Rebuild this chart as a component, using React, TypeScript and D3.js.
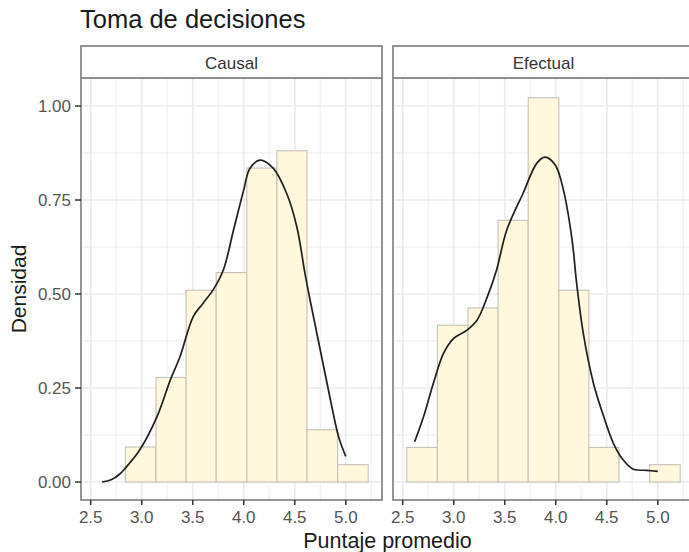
import React, {useEffect, useRef} from 'react';
import * as d3 from 'd3';

// bin breaks shared by both facets (binwidth ~0.3)
const binBreaks = [2.54, 2.84, 3.14, 3.435, 3.73, 4.03, 4.325, 4.62, 4.92, 5.22];

const causalHist = [0, 0.093, 0.278, 0.51, 0.557, 0.835, 0.881, 0.139, 0.046];
const efectualHist = [0.092, 0.417, 0.463, 0.696, 1.022, 0.51, 0.092, 0, 0.046];

const causalDensX = [2.61, 2.70, 2.78, 2.84, 2.98, 3.15, 3.28, 3.375, 3.505,
  3.60, 3.70, 3.80, 3.90, 4.00, 4.06, 4.16, 4.29, 4.42, 4.52, 4.60, 4.65,
  4.75, 4.85, 4.93, 5.00];
const causalDensY = [0.0, 0.006, 0.02, 0.037, 0.085, 0.174, 0.271, 0.333,
  0.44, 0.475, 0.511, 0.564, 0.67, 0.777, 0.834, 0.856, 0.834, 0.768, 0.679,
  0.555, 0.484, 0.351, 0.218, 0.12, 0.068];

const efectualDensX = [2.617, 2.705, 2.80, 2.90, 3.00, 3.13, 3.23, 3.33,
  3.42, 3.52, 3.68, 3.815, 3.895, 3.995, 4.075, 4.16, 4.205, 4.27, 4.37,
  4.47, 4.565, 4.66, 4.76, 4.89, 5.00];
const efectualDensY = [0.107, 0.174, 0.262, 0.342, 0.382, 0.404, 0.431,
  0.493, 0.564, 0.67, 0.768, 0.848, 0.864, 0.843, 0.777, 0.644, 0.528, 0.395,
  0.262, 0.174, 0.103, 0.059, 0.034, 0.031, 0.028];

const facets = ['Causal', 'Efectual'];
const xTicks = [2.5, 3.0, 3.5, 4.0, 4.5, 5.0];
const xMinor = [2.75, 3.25, 3.75, 4.25, 4.75, 5.25];
const yTicks = [0, 0.25, 0.5, 0.75, 1.0];
const yMinor = [0.125, 0.375, 0.625, 0.875];

const FONT = '\'Liberation Sans\', Arial, Helvetica, sans-serif';

export default function App() {
  const ref = useRef<SVGSVGElement>(null);

  useEffect(() => {
    const svg = d3.select(ref.current);
    svg.selectAll('*').remove();

    const panelW = 301;
    const panelTop = 78;
    const panelBottom = 500;
    const stripTop = 46;
    const panelLefts = [81, 393];

    const x = d3.scaleLinear().domain([2.405, 5.355]).range([0, panelW]);
    const y = d3.scaleLinear()
        .domain([-0.0479, 1.0745])
        .range([panelBottom, panelTop]);

    const hists = [causalHist, efectualHist];
    const curves = [
      causalDensX.map((d, i) => [d, causalDensY[i]] as [number, number]),
      efectualDensX.map((d, i) => [d, efectualDensY[i]] as [number, number]),
    ];

    const line = d3.line<[number, number]>()
        .x((d) => x(d[0]))
        .y((d) => y(d[1]))
        .curve(d3.curveCatmullRom);

    facets.forEach((name, k) => {
      const g = svg.append('g')
          .attr('transform', `translate(${panelLefts[k]},0)`);

      // panel background
      g.append('rect')
          .attr('x', 0).attr('y', panelTop)
          .attr('width', panelW).attr('height', panelBottom - panelTop)
          .attr('fill', 'white');

      // grid
      g.selectAll('.xminor').data(xMinor).join('line')
          .attr('x1', (d) => x(d)).attr('x2', (d) => x(d))
          .attr('y1', panelTop).attr('y2', panelBottom)
          .attr('stroke', '#EBEBEB').attr('stroke-width', 0.9);
      g.selectAll('.yminor').data(yMinor).join('line')
          .attr('x1', 0).attr('x2', panelW)
          .attr('y1', (d) => y(d)).attr('y2', (d) => y(d))
          .attr('stroke', '#EBEBEB').attr('stroke-width', 0.9);
      g.selectAll('.xmajor').data(xTicks).join('line')
          .attr('x1', (d) => x(d)).attr('x2', (d) => x(d))
          .attr('y1', panelTop).attr('y2', panelBottom)
          .attr('stroke', '#EBEBEB').attr('stroke-width', 1.7);
      g.selectAll('.ymajor').data(yTicks).join('line')
          .attr('x1', 0).attr('x2', panelW)
          .attr('y1', (d) => y(d)).attr('y2', (d) => y(d))
          .attr('stroke', '#EBEBEB').attr('stroke-width', 1.7);

      // histogram bars
      const bins = hists[k].map((v, i) => ({
        x0: binBreaks[i], x1: binBreaks[i + 1], v,
      }));
      g.selectAll('.bar').data(bins).join('rect')
          .attr('x', (d) => x(d.x0))
          .attr('width', (d) => x(d.x1) - x(d.x0))
          .attr('y', (d) => y(d.v))
          .attr('height', (d) => y(0) - y(d.v))
          .attr('fill', '#FFF8DC')
          .attr('stroke', '#C4C1B8')
          .attr('stroke-width', 1.1);

      // density curve
      g.append('path')
          .attr('d', line(curves[k]))
          .attr('fill', 'none')
          .attr('stroke', '#1F1F1F')
          .attr('stroke-width', 1.7);

      // panel border
      g.append('rect')
          .attr('x', 0).attr('y', panelTop)
          .attr('width', panelW).attr('height', panelBottom - panelTop)
          .attr('fill', 'none')
          .attr('stroke', '#8A8A8A').attr('stroke-width', 1.8);

      // strip
      g.append('rect')
          .attr('x', 0).attr('y', stripTop)
          .attr('width', panelW).attr('height', panelTop - stripTop)
          .attr('fill', 'white')
          .attr('stroke', '#8A8A8A').attr('stroke-width', 1.8);
      g.append('text')
          .attr('x', panelW / 2).attr('y', 69)
          .attr('text-anchor', 'middle')
          .style('font-family', FONT).style('font-size', '17px')
          .attr('fill', '#333')
          .text(name);

      // x axis
      g.selectAll('.xtick').data(xTicks).join('line')
          .attr('x1', (d) => x(d)).attr('x2', (d) => x(d))
          .attr('y1', panelBottom).attr('y2', panelBottom + 5)
          .attr('stroke', '#333').attr('stroke-width', 1.5);
      g.selectAll('.xlab').data(xTicks).join('text')
          .attr('x', (d) => x(d)).attr('y', 523)
          .attr('text-anchor', 'middle')
          .style('font-family', FONT).style('font-size', '17px')
          .attr('fill', '#555')
          .text((d) => d3.format('.1f')(d));
    });

    // y axis on the left panel only
    const ya = svg.append('g').attr('transform', `translate(${panelLefts[0]},0)`);
    ya.selectAll('.ytick').data(yTicks).join('line')
        .attr('x1', -6).attr('x2', 0)
        .attr('y1', (d) => y(d)).attr('y2', (d) => y(d))
        .attr('stroke', '#333').attr('stroke-width', 1.5);
    ya.selectAll('.ylab').data(yTicks).join('text')
        .attr('x', -10).attr('y', (d) => y(d))
        .attr('dy', '0.36em')
        .attr('text-anchor', 'end')
        .style('font-family', FONT).style('font-size', '17px')
        .attr('fill', '#555')
        .text((d) => d3.format('.2f')(d));

    // titles
    svg.append('text')
        .attr('x', 80).attr('y', 28)
        .style('font-family', FONT).style('font-size', '25.5px')
        .attr('fill', '#1A1A1A')
        .text('Toma de decisiones');
    svg.append('text')
        .attr('transform', `translate(26,${(panelTop + panelBottom) / 2}) rotate(-90)`)
        .attr('text-anchor', 'middle')
        .style('font-family', FONT).style('font-size', '21px')
        .attr('fill', '#1A1A1A')
        .text('Densidad');
    svg.append('text')
        .attr('x', (panelLefts[0] + panelLefts[1] + panelW) / 2).attr('y', 548)
        .attr('text-anchor', 'middle')
        .style('font-family', FONT).style('font-size', '21.5px')
        .attr('fill', '#1A1A1A')
        .text('Puntaje promedio');
  }, []);

  return (
    <svg ref={ref} width={689} height={552}
      style={{position: 'absolute', left: 0, top: 0, background: 'white'}}>
    </svg>
  );
}
